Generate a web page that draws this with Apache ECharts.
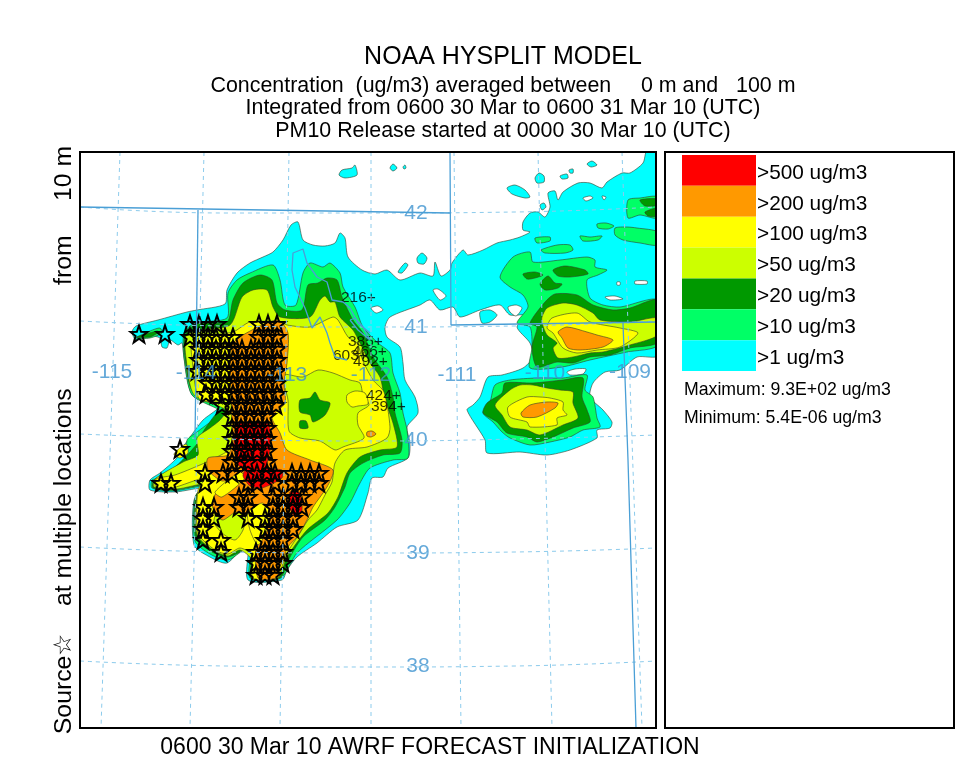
<!DOCTYPE html>
<html>
<head>
<meta charset="utf-8">
<title>HYSPLIT</title>
<script src="https://cdn.jsdelivr.net/npm/echarts@6/dist/echarts.min.js"></script>
<style>
    html, body {margin: 0; padding: 0; background: #fff;}
    #myChart {width: 974px; height: 776px;}
</style>
</head>
<body>
<div id="myChart"></div>
<script>
// map values are km east / km north of the lower left corner of the map frame
let titleLines = [
    'NOAA HYSPLIT MODEL',
    'Concentration  (ug/m3) averaged between     0 m and   100 m',
    'Integrated from 0600 30 Mar to 0600 31 Mar 10 (UTC)',
    'PM10 Release started at 0000 30 Mar 10 (UTC)'
];
let footerText = '0600 30 Mar 10 AWRF FORECAST INITIALIZATION';
let sideText = 'Source\u2606    at multiple locations               from     10 m';
let maxText = 'Maximum: 9.3E+02 ug/m3';
let minText = 'Minimum: 5.4E-06 ug/m3';

let legendLabels = ['>500 ug/m3', '>200 ug/m3', '>100 ug/m3', '>50 ug/m3', '>20 ug/m3', '>10 ug/m3', '>1 ug/m3'];
let legendColors = ['#ff0000', '#ff9900', '#ffff00', '#ccff00', '#009900', '#00ff66', '#00ffff'];

let cyanContours = [
    [[56,402],[78,408],[107,416],[117,418],[145,424],[147,438],[157,455],[170,465],[183,471],[193,476],[203,488],[211,503],[218,506],[223,488],[233,483],[245,482],[255,485],[260,495],[265,490],[268,471],[282,458],[295,454],[307,458],[320,448],[340,455],[353,452],[355,466],[361,452],[370,458],[372,465],[383,478],[388,473],[403,478],[417,485],[430,488],[440,491],[450,496],[443,498],[443,506],[450,515],[458,516],[465,511],[470,521],[468,535],[475,537],[478,528],[483,536],[498,545],[510,545],[522,540],[527,546],[542,555],[550,555],[563,565],[567,578],[578,578],[578,373],[557,371],[540,358],[525,356],[513,345],[510,331],[523,318],[532,306],[530,300],[517,298],[517,290],[490,278],[467,273],[440,276],[407,275],[405,288],[387,318],[393,323],[400,331],[408,351],[422,353],[443,360],[453,371],[450,385],[437,401],[447,413],[430,413],[420,423],[400,418],[380,411],[373,421],[360,418],[350,428],[340,423],[310,411],[305,401],[307,391],[320,381],[323,365],[325,348],[335,331],[338,315],[327,301],[330,285],[328,270],[308,260],[303,251],[292,250],[288,235],[278,208],[257,201],[237,185],[217,171],[207,158],[202,148],[168,148],[168,185],[147,165],[128,172],[114,183],[114,228],[125,240],[95,236],[70,238],[70,248],[80,255],[97,270],[103,281],[113,295],[123,308],[138,320],[133,323],[112,333],[104,370],[102,385],[98,383],[90,388],[87,380],[82,381],[80,390],[70,392],[56,388],[52,396]]
];
let whiteHoles = [
    [[291,420],[298,422],[303,418],[296,415]],
    [[353,438],[358,439],[366,432],[360,428]],
    [[503,530],[510,532],[513,530],[506,527]],
    [[522,532],[526,531],[524,528]],
    [[525,431],[535,432],[543,429],[530,428]],
    [[555,447],[567,447],[567,444],[555,444]],
    [[537,446],[540,446],[540,443],[537,443]],
    [[487,356],[495,359],[506,359],[503,354],[490,353]],
    [[428,421],[436,423],[442,420],[436,412],[430,416]]
];
let cyanIslands = [
    [[427,540],[435,543],[445,538],[450,531],[445,530],[432,534]],
    [[455,550],[459,555],[464,552],[464,546],[457,545]],
    [[480,552],[487,554],[488,550],[482,549]],
    [[507,564],[512,567],[517,563],[511,561]],
    [[489,558],[493,559],[493,555],[490,555]],
    [[460,523],[464,525],[466,521],[462,518]],
    [[259,553],[262,558],[272,560],[275,563],[277,553],[265,550]],
    [[310,560],[313,564],[317,560],[313,557]],
    [[323,561],[325,563],[326,560],[324,559]],
    [[337,470],[342,475],[347,470],[344,464],[338,465]],
    [[318,456],[325,465],[328,463],[322,455]],
    [[400,416],[410,418],[417,413],[410,406],[402,405]]
];
let lightGreenContours = [
    [[147,410],[148,435],[157,448],[170,455],[193,463],[200,448],[205,423],[216,423],[223,455],[230,465],[243,461],[250,465],[260,455],[263,441],[275,421],[283,401],[298,385],[310,375],[313,355],[320,335],[323,315],[327,298],[328,270],[313,268],[290,260],[280,245],[270,225],[257,208],[217,175],[201,150],[170,150],[170,181],[148,168],[130,174],[115,187],[115,231],[125,242],[93,237],[72,240],[72,248],[80,250],[97,261],[107,273],[107,288],[117,296],[133,308],[142,316],[112,333],[104,370],[104,395],[115,405]],
    [[56,390],[70,397],[80,400],[82,395],[70,390]],
    [[443,433],[430,441],[420,451],[433,471],[450,476],[453,466],[480,468],[507,471],[515,468],[515,461],[527,458],[518,453],[507,448],[510,430],[523,423],[540,421],[578,428],[578,383],[547,376],[510,368],[482,361],[450,360],[452,381],[450,401],[437,405],[448,421]],
    [[415,343],[430,348],[457,350],[483,350],[507,353],[505,338],[513,331],[517,310],[520,301],[503,298],[490,291],[470,286],[450,283],[430,290],[422,296],[413,306],[403,315],[410,326]],
    [[535,500],[547,501],[557,500],[578,496],[578,483],[560,485],[543,488],[535,493]],
    [[548,528],[560,530],[578,531],[578,510],[560,513],[548,510]],
    [[517,504],[526,505],[534,502],[528,499],[518,500]],
    [[500,492],[510,491],[522,492],[518,488],[503,487]],
    [[455,490],[470,491],[470,487],[457,485]],
    [[461,478],[477,483],[490,483],[493,478],[485,475],[465,475]]
];
let darkGreenContours = [
    [[118,405],[147,406],[153,428],[163,445],[180,453],[192,448],[197,425],[205,418],[222,418],[228,443],[238,445],[247,450],[257,448],[262,431],[273,408],[283,395],[293,371],[307,351],[313,331],[315,315],[322,288],[320,275],[303,273],[283,265],[270,255],[265,241],[255,221],[245,208],[223,191],[210,171],[200,150],[171,150],[172,180],[148,171],[132,176],[116,190],[116,233],[125,243],[93,238],[73,240],[74,248],[95,261],[110,276],[120,288],[123,296],[135,313],[145,323],[113,336],[105,370],[105,393]],
    [[57,391],[77,397],[79,396],[70,391]],
    [[407,325],[422,335],[425,345],[453,345],[483,348],[503,350],[502,331],[507,318],[510,306],[493,300],[473,291],[457,286],[447,291],[427,295],[417,306],[403,315]],
    [[450,405],[465,426],[475,434],[497,433],[513,423],[533,418],[550,420],[578,428],[578,386],[550,380],[530,373],[510,371],[493,365],[477,366],[457,361],[452,381],[457,401]],
    [[560,528],[578,529],[578,523],[565,522]],
    [[565,516],[578,520],[578,512],[568,512]],
    [[443,454],[455,456],[463,453],[455,450],[447,449]],
    [[473,458],[485,462],[505,458],[508,454],[490,451],[478,452]],
    [[460,444],[468,452],[475,445],[482,444],[478,440],[465,438]]
];
let limeContours = [
    [[120,398],[150,403],[162,431],[173,438],[187,438],[193,421],[200,411],[230,411],[240,428],[245,432],[250,426],[255,426],[260,411],[273,398],[280,385],[290,365],[300,351],[305,328],[313,305],[317,281],[300,278],[280,271],[267,255],[258,231],[248,215],[227,198],[207,171],[198,150],[172,150],[172,168],[160,178],[148,172],[133,178],[117,193],[117,233],[125,244],[97,239],[74,241],[75,249],[103,266],[118,273],[117,290],[130,300],[140,308],[146,318],[114,333],[106,370],[106,392]],
    [[415,323],[430,338],[440,343],[453,343],[467,340],[480,338],[493,336],[493,325],[498,310],[483,303],[460,293],[447,298],[430,301],[422,313]],
    [[462,411],[467,420],[483,425],[497,423],[513,415],[520,408],[550,406],[578,410],[578,393],[550,383],[523,376],[510,375],[493,371],[478,370],[473,380],[477,385],[467,393],[462,405]]
];
let yellowContours = [
    [[125,392],[153,396],[170,406],[200,406],[207,403],[230,401],[253,411],[258,408],[268,391],[277,385],[283,367],[293,348],[304,336],[310,301],[307,290],[287,281],[265,278],[255,265],[252,246],[245,233],[237,218],[228,208],[220,195],[207,175],[196,150],[173,150],[172,173],[160,180],[148,174],[135,178],[118,195],[118,238],[125,250],[92,240],[76,241],[76,249],[95,253],[120,263],[135,270],[150,280],[152,326],[120,328],[112,370],[112,385]],
    [[428,321],[447,331],[460,331],[470,330],[483,326],[483,318],[487,313],[477,310],[477,303],[450,301],[447,306],[430,311]],
    [[472,410],[497,415],[510,406],[540,400],[558,395],[540,381],[517,378],[497,375],[483,380],[473,395],[467,400]]
];
let limeCoreContours = [
    [[203,353],[223,351],[238,358],[253,355],[270,348],[280,345],[283,333],[289,323],[278,315],[278,303],[284,290],[263,281],[255,278],[240,287],[220,290],[209,297],[208,328]],
    [[134,206],[138,218],[152,223],[165,213],[163,198],[155,188],[142,195]]
];
let yellowCoreContours = [
    [[267,333],[275,337],[285,335],[288,324],[278,322],[272,321],[267,326]]
];
let darkCoreContours = [
    [[220,328],[230,330],[235,336],[240,328],[250,325],[245,313],[233,306],[230,313],[220,316]],
    [[220,307],[226,307],[228,300],[220,300]]
];
let orangeContours = [
    [[172,398],[198,408],[208,395],[207,365],[204,345],[205,325],[192,311],[200,295],[207,278],[230,268],[253,258],[247,241],[233,221],[227,208],[217,191],[208,181],[200,161],[196,150],[178,150],[176,188],[182,208],[157,216],[142,208],[132,223],[138,238],[155,250],[142,247],[128,258],[128,270],[148,273],[152,288],[151,328],[152,383]],
    [[287,296],[292,297],[296,294],[291,291],[287,292]],
    [[441,315],[450,323],[467,326],[478,325],[475,320],[457,311],[443,311]],
    [[478,396],[487,401],[507,396],[517,393],[533,388],[523,381],[500,378],[488,380],[482,390]]
];
let yellowStripContours = [
    [[135,236],[160,256],[165,250],[142,231]],
    [[168,216],[182,225],[189,218],[187,198],[178,183],[170,198]],
    [[94,274],[106,284],[108,275],[100,270]]
];
let redContours = [
    [[158,304],[188,304],[190,278],[187,260],[202,258],[202,250],[182,240],[170,242],[163,252],[165,260],[158,263],[154,283]],
    [[210,236],[219,236],[222,218],[215,211],[209,223]],
    [[211,250],[217,248],[214,244]]
];

// graticule
let meridians = [
    [[40,576],[21,0]],
    [[124,576],[110,0]],
    [[209,576],[200,0]],
    [[291,576],[291,0]],
    [[374,576],[381,0]],
    [[458,576],[472,0]],
    [[542,576],[562,0]]
];
let parallels = [
    [[0,521],[145,515],[291,515],[435,516],[576,521]],
    [[0,407],[145,402],[291,401],[435,402],[576,407]],
    [[0,294],[145,289],[291,287],[435,289],[576,293]],
    [[0,181],[145,176],[291,175],[435,176],[576,180]],
    [[0,67],[145,62],[291,61],[435,62],[576,67]]
];
let gridLabels = [
    ['42',336,515], ['41',336,401], ['40',336,288], ['39',338,175], ['38',338,62],
    ['-115',32,356], ['-114',116,355], ['-113',207,353], ['-112',291,353],
    ['-111',377,353], ['-110',465,355], ['-109',550,356]
];

// state lines and the lake shore
let boundaries = [
    [[0,521],[370,515]],
    [[370,576],[371,403],[576,406]],
    [[118,518],[115,288]],
    [[543,405],[548,268],[556,0]],
    [[212,458],[213,475],[223,479],[227,465],[237,451],[247,446],[252,428],[263,426],[270,420],[278,405],[290,395]],
    [[212,458],[215,441],[225,420],[232,400],[240,411],[247,395],[250,385],[255,371],[267,368]],
    [[270,408],[275,410],[283,401],[290,388],[278,398],[270,408]]
];

let sourceRows = [
    [404,[110,119,128,137,179,188,197]],
    [394,[59,85]],
    [391,[110,119,128,136,145,153,179,188,197]],
    [379,[119,128,136,145,153,162,171,179,188,197]],
    [368,[119,128,136,145,153,162,171,179,188,197]],
    [357,[117,128,136,145,153,162,171,179,188,197]],
    [345,[128,136,145,153,162,171,179,188,197]],
    [334,[126,136,145,153,162,171,179,188,197]],
    [323,[142,152,161,170,178,187,196]],
    [312,[152,161,170,178,187]],
    [300,[152,161,170,178,187]],
    [289,[152,161,170,178,187]],
    [279,[100]],
    [277,[152,161,168,177,187]],
    [266,[152,161,168,187]],
    [255,[125,143,152,177,187,195,212,221,230,239]],
    [245,[81,91,125,168,177,195,212,221,230,239]],
    [231,[159,168,193,203,213,222]],
    [221,[123,134,159,168,193,203,213,222]],
    [210,[123,134,168,185,193,203,213]],
    [199,[123,185,193,203,213]],
    [188,[123,141,185,193,203]],
    [176,[141,176,185,193,203]],
    [165,[176,185,193,203]],
    [153,[176,185,193]]
];
let stationLabels = [
    ['216+',261,430], ['385+',268,386], ['466+',272,376], ['603+',253,372],
    ['492+',273,366], ['424+',286,332], ['394+',291,321]
];
let starPath = 'path://M0,-10 L2.35,-3.24 9.51,-3.09 3.8,1.24 5.88,8.09 0,4 -5.88,8.09 -3.8,1.24 -9.51,-3.09 -2.35,-3.24 Z';
let fontName = '"Liberation Sans", Arial, sans-serif';

function contourSeries(name, polygons, fill, stroke) {
    return {
        name: name,
        type: 'custom',
        clip: true,
        silent: true,
        xAxisIndex: 0,
        yAxisIndex: 0,
        data: polygons.map((p, i) => [i]),
        renderItem: function (params, api) {
            let points = polygons[params.dataIndex].map(p => api.coord(p));
            return {
                type: 'polygon',
                shape: {points: points, smooth: 0.25},
                style: {fill: fill, stroke: stroke, lineWidth: 0.8}
            };
        }
    };
}

function lineSeries(name, lines, color, width, dash, smooth) {
    return lines.map((line, i) => ({
        name: name + i,
        type: 'line',
        xAxisIndex: 0,
        yAxisIndex: 0,
        data: line,
        smooth: smooth,
        showSymbol: false,
        silent: true,
        lineStyle: {color: color, width: width, type: dash}
    }));
}

function labelSeries(name, rows, color, size, position) {
    return {
        name: name,
        type: 'scatter',
        xAxisIndex: 0,
        yAxisIndex: 0,
        symbolSize: 0,
        silent: true,
        data: rows.map(r => ({value: [r[1], r[2]], name: r[0]})),
        labelLayout: {hideOverlap: false},
        label: {
            show: true,
            position: position,
            distance: 0,
            formatter: '{b}',
            color: color,
            fontSize: size,
            fontFamily: fontName
        }
    };
}

let sources = [];
sourceRows.forEach(row => row[1].forEach(x => sources.push([x, row[0]])));

let contourOutline = 'rgba(50,60,40,0.75)';
let series = [
    contourSeries('>1', cyanContours, legendColors[6], contourOutline),
    contourSeries('holes', whiteHoles, '#ffffff', contourOutline),
    contourSeries('>1 islands', cyanIslands, legendColors[6], contourOutline),
    contourSeries('>10', lightGreenContours, legendColors[5], contourOutline),
    contourSeries('>20', darkGreenContours, legendColors[4], contourOutline),
    contourSeries('>50', limeContours, legendColors[3], contourOutline),
    contourSeries('>100', yellowContours, legendColors[2], contourOutline),
    contourSeries('>50 core', limeCoreContours, legendColors[3], contourOutline),
    contourSeries('>100 core', yellowCoreContours, legendColors[2], contourOutline),
    contourSeries('>20 core', darkCoreContours, legendColors[4], contourOutline),
    contourSeries('>200', orangeContours, legendColors[1], contourOutline),
    contourSeries('>100 strip', yellowStripContours, legendColors[2], contourOutline),
    contourSeries('>500', redContours, legendColors[0], contourOutline)
];
series = series.concat(lineSeries('meridian', meridians, '#8ccbec', 1, [4, 4], false));
series = series.concat(lineSeries('parallel', parallels, '#8ccbec', 1, [4, 4], true));
series = series.concat(lineSeries('border', boundaries, '#4a9fd6', 1.3, 'solid', false));
series.push(labelSeries('gridLabels', gridLabels, '#3f93cf', 21, 'inside'));
series.push({
    name: 'sources',
    type: 'scatter',
    xAxisIndex: 0,
    yAxisIndex: 0,
    silent: true,
    symbol: starPath,
    symbolSize: 17,
    data: sources,
    itemStyle: {color: 'rgba(0,0,0,0)', borderColor: '#000', borderWidth: 2, opacity: 1}
});
series.push(labelSeries('stations', stationLabels, '#000', 15.5, 'right'));
series.push({
    name: 'legend',
    type: 'bar',
    xAxisIndex: 1,
    yAxisIndex: 1,
    barWidth: '100%',
    silent: true,
    data: legendLabels.map((l, i) => ({value: 1, itemStyle: {color: legendColors[i]}}))
});

let myChart = echarts.init(document.getElementById('myChart'), null, {renderer: 'canvas'});
myChart.setOption({
    animation: false,
    backgroundColor: '#fff',
    textStyle: {fontFamily: fontName},
    title: [
        {text: titleLines[0], left: 498, top: 40, textAlign: 'center', textStyle: {fontSize: 25, fontWeight: 'normal', color: '#000', fontFamily: fontName}},
        {text: titleLines[1], left: 498, top: 71, textAlign: 'center', textStyle: {fontSize: 21.4, fontWeight: 'normal', color: '#000', fontFamily: fontName}},
        {text: titleLines[2], left: 498, top: 93, textAlign: 'center', textStyle: {fontSize: 21.4, fontWeight: 'normal', color: '#000', fontFamily: fontName}},
        {text: titleLines[3], left: 498, top: 116, textAlign: 'center', textStyle: {fontSize: 21.4, fontWeight: 'normal', color: '#000', fontFamily: fontName}},
        {text: footerText, left: 425, top: 731, textAlign: 'center', textStyle: {fontSize: 23, fontWeight: 'normal', color: '#000', fontFamily: fontName}},
        {text: maxText, left: 679, top: 376, textStyle: {fontSize: 17.7, fontWeight: 'normal', color: '#000', fontFamily: fontName}},
        {text: minText, left: 679, top: 404, textStyle: {fontSize: 17.7, fontWeight: 'normal', color: '#000', fontFamily: fontName}}
    ],
    grid: [
        {left: 80, top: 152, width: 576, height: 576},
        {left: 682, top: 155, width: 74, height: 216}
    ],
    xAxis: [
        {type: 'value', gridIndex: 0, min: 0, max: 576, show: false},
        {type: 'value', gridIndex: 1, min: 0, max: 1, show: false}
    ],
    yAxis: [
        {
            type: 'value',
            gridIndex: 0,
            min: 0,
            max: 576,
            name: sideText,
            nameLocation: 'middle',
            nameRotate: 90,
            nameGap: 3,
            nameTextStyle: {fontSize: 24.8, color: '#000', fontFamily: fontName},
            axisLine: {show: false},
            axisTick: {show: false},
            axisLabel: {show: false},
            splitLine: {show: false}
        },
        {
            type: 'category',
            gridIndex: 1,
            inverse: true,
            position: 'right',
            data: legendLabels,
            axisLine: {show: false},
            axisTick: {show: false},
            axisLabel: {margin: 1, fontSize: 20.8, color: '#000', fontFamily: fontName, verticalAlign: 'top', lineHeight: 5}
        }
    ],
    graphic: [
        {type: 'rect', z: 100, silent: true, shape: {x: 80, y: 152, width: 576, height: 576}, style: {fill: 'none', stroke: '#000', lineWidth: 2}},
        {type: 'rect', z: 100, silent: true, shape: {x: 665, y: 152, width: 289, height: 576}, style: {fill: 'none', stroke: '#000', lineWidth: 2}}
    ],
    series: series
});
</script>
</body>
</html>
